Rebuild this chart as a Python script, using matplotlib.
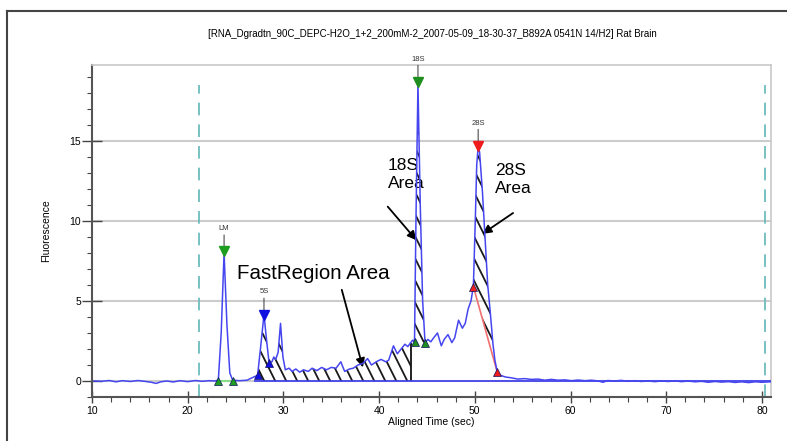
import numpy as np
import matplotlib
matplotlib.use("Agg")
import matplotlib.pyplot as plt
from matplotlib.collections import LineCollection
from matplotlib.lines import Line2D

plt.rcParams['font.family'] = ['Liberation Sans Narrow', 'Liberation Sans', 'DejaVu Sans']

# electropherogram trace (time in sec, fluorescence)
time = [10.2, 11.0, 11.8, 12.5, 13.2, 14.0, 14.8, 15.5, 16.2, 16.7, 17.2, 17.8, 18.5, 19.2,
        20.0, 20.8, 21.5, 22.2, 22.8, 23.2, 23.5, 23.8, 24.1, 24.4, 24.7, 25.4, 26.2, 26.9,
        27.3, 27.6, 27.97, 28.25, 28.5, 28.8, 29.0, 29.2, 29.45, 29.7, 29.95, 30.2, 30.6,
        30.9, 31.3, 31.7, 32.1, 32.6, 33.0, 33.5, 34.0, 34.5, 35.0, 35.5, 36.0, 36.4, 36.9,
        37.3, 37.8, 38.3, 38.8, 39.2, 39.7, 40.2, 40.7, 41.0, 41.5, 41.9, 42.3, 42.7, 43.0,
        43.3, 43.5, 43.7, 43.85, 44.06, 44.3, 44.55, 44.8, 45.1, 45.4, 45.7, 46.1, 46.5,
        46.8, 47.2, 47.6, 47.9, 48.3, 48.7, 49.0, 49.3, 49.6, 49.85, 50.05, 50.2, 50.35,
        50.5, 50.8, 51.1, 51.35, 51.6, 51.9, 52.1, 52.35, 52.7, 53.2, 53.8, 54.5, 55.2, 55.9,
        56.6, 57.3, 58.0, 58.7, 59.4, 60.1, 60.8, 61.5, 62.2, 62.9, 63.4, 63.9, 64.6, 65.3,
        66.0, 66.7, 67.4, 68.1, 68.8, 69.5, 70.2, 70.9, 71.6, 72.3, 73.0, 73.7, 74.4, 75.1,
        75.8, 76.5, 77.2, 77.9, 78.6, 79.3, 80.0, 80.9]
fluor = [0.0, -0.02, 0.03, -0.05, 0.02, -0.03, 0.03, -0.02, -0.08, -0.15, -0.05, 0.0, -0.06, 0.02,
         -0.04, 0.03, -0.02, 0.02, 0.0, 0.05, 3.0, 8.0, 3.5, 0.5, 0.05, 0.02, 0.05, 0.25,
         0.35, 2.0, 4.15, 2.5, 1.15, 1.2, 1.5, 1.35, 1.8, 3.6, 1.5, 0.7, 0.8,
         0.6, 0.75, 0.55, 0.7, 0.6, 0.8, 0.65, 0.85, 0.7, 0.85, 0.8, 1.2, 0.6, 0.75,
         0.8, 1.0, 1.1, 1.4, 1.0, 1.2, 1.35, 1.2, 1.3, 2.2, 1.7, 2.0, 2.3, 2.15,
         2.4, 2.55, 2.45, 10.0, 18.6, 11.0, 5.0, 2.4, 2.6, 2.45, 2.7, 3.0, 2.2,
         2.6, 2.9, 2.4, 2.7, 3.8, 3.3, 3.6, 4.5, 5.0, 5.9, 10.0, 13.5, 14.65,
         14.3, 11.8, 8.6, 6.0, 4.4, 2.3, 1.3, 0.55, 0.35, 0.25, 0.2, 0.12, 0.15, 0.1,
         0.12, 0.05, 0.1, 0.05, 0.07, 0.02, 0.06, 0.02, 0.05, 0.0, -0.08, 0.03, 0.0, 0.04,
         -0.02, 0.02, -0.03, 0.01, -0.04, 0.0, -0.03, 0.01, -0.04, 0.0, -0.05, -0.02, -0.08, -0.03,
         -0.07, -0.04, -0.09, -0.05, -0.1, -0.05, -0.08, -0.05]

# peak tops: name, time, height, marker colour
peak_names = ['LM', '5S', '18S', '28S']
peak_times = [23.8, 27.97, 44.06, 50.35]
peak_heights = [8.1, 4.15, 18.7, 14.7]
peak_colors = ['#1e9e1e', '#1010e0', '#1e8e1e', '#ee1c1c']

# peak start/end markers
base_times = [[23.2, 24.7], [27.3, 28.5], [43.7, 44.8], [49.85, 52.35]]
base_levels = [[0.0, 0.0], [0.35, 1.15], [2.45, 2.4], [5.9, 0.55]]

# integration regions
fast_region = (27.3, 43.3)
peak18_region = (43.7, 44.8)
peak28_region = (49.85, 52.35)

markers = [21.2, 80.3]

t = np.array(time)
f = np.array(fluor)

fig = plt.figure(figsize=(7.87, 4.41), dpi=100)
ax = fig.add_axes([92 / 787, 1 - 397 / 441, 679 / 787, 332 / 441])
ax.set_xlim(10, 80.95)
ax.set_ylim(-1.0, 19.75)

# outer frame (only top and left show)
fig.add_artist(Line2D([7 / 787, 7 / 787], [0, 1 - 11 / 441], color='#444444', lw=1.5))
fig.add_artist(Line2D([7 / 787, 1], [1 - 11 / 441, 1 - 11 / 441], color='#444444', lw=1.5))

for yv in [0, 5, 10, 15]:
    ax.axhline(yv, color='#cccccc', lw=1.5, zorder=0)

ax.vlines(markers, -1, 18.5, colors='#6dbcbc', linestyles=(0, (7, 5)), lw=1.3, zorder=1)


def hatch(lo, hi, mask):
    poly = ax.fill_between(t[mask], lo, hi, facecolor='none', edgecolor='none')
    path = poly.get_paths()[0]
    k = 1.2  # slope of the hatch lines in data units
    x0, x1 = t[mask].min(), t[mask].max()
    y0, y1 = -1, 20
    segs = [[(c - y0 / k, y0), (c - y1 / k, y1)]
            for c in np.arange(x0 - 20, x1 + 20, 1.15)]
    lc = LineCollection(segs, colors='#1a1a1a', linewidths=1.3, zorder=2)
    ax.add_collection(lc)
    lc.set_clip_path(path, ax.transData)


m = (t >= fast_region[0]) & (t <= fast_region[1])
hatch(0, f[m], m)
m = (t >= peak18_region[0]) & (t <= peak18_region[1])
hatch(2.4, f[m], m)
m = (t >= peak28_region[0]) & (t <= peak28_region[1])
red_base = np.interp(t[m], base_times[3], base_levels[3])
hatch(red_base, f[m], m)

ax.vlines(fast_region[1], 0, 2.4, colors='#111111', lw=1.3, zorder=3)
ax.hlines(0, 26.9, 80.9, colors='#3a3af0', lw=1.2, zorder=3)
ax.hlines(0, base_times[0][0], base_times[0][1], colors='#88dd88', lw=1.5, zorder=3)
ax.plot(base_times[3], base_levels[3], color='#f07070', lw=1.2, zorder=3)

ax.plot(t, f, color='#4646f0', lw=1.1, zorder=4)

for i in range(4):
    ax.plot(base_times[i], base_levels[i], '^', color=peak_colors[i], mec='#101060',
            mew=0.5, ms=6, zorder=5)
    ax.plot(peak_times[i], peak_heights[i], 'v', color=peak_colors[i], ms=6.5, zorder=5)
    ax.annotate(peak_names[i], xy=(peak_times[i], peak_heights[i] + 0.25),
                xytext=(0, 11), textcoords='offset points', ha='center', va='bottom',
                fontsize=5.5, color='#333333',
                arrowprops=dict(arrowstyle='-', color='#333333', lw=0.7, shrinkA=0, shrinkB=0))

arrow = dict(arrowstyle='-|>', color='black', lw=1.3, mutation_scale=13, shrinkA=0, shrinkB=0)
ax.text(25.15, 6.4, 'FastRegion Area', fontsize=14.8, family=['Liberation Sans', 'DejaVu Sans'])
ax.annotate('', xy=(38.3, 0.85), xytext=(36.1, 5.7), arrowprops=arrow)
ax.text(40.9, 12.9, '18S\nArea', fontsize=12.5, va='center', linespacing=1.3,
        family=['Liberation Sans', 'DejaVu Sans'])
ax.annotate('', xy=(43.9, 8.8), xytext=(40.9, 10.9), arrowprops=arrow)
ax.text(52.1, 12.6, '28S\nArea', fontsize=12.5, va='center', linespacing=1.3,
        family=['Liberation Sans', 'DejaVu Sans'])
ax.annotate('', xy=(50.8, 9.2), xytext=(54.0, 10.5), arrowprops=arrow)

ax.set_xticks(range(10, 81, 10))
ax.set_xticks(range(12, 81, 2), minor=True)
ax.set_yticks([0, 5, 10, 15])
ax.set_yticks(range(-1, 20), minor=True)
ax.tick_params(axis='x', which='major', direction='inout', length=9, width=1, color='#444444',
               labelsize=7.5, pad=2)
ax.tick_params(axis='y', which='major', direction='inout', length=14, width=1, color='#444444',
               labelsize=7.5, pad=1)
ax.tick_params(which='minor', direction='out', length=3.5, width=0.8, color='#444444')
for s in ['left', 'bottom']:
    ax.spines[s].set_color('#555555')
    ax.spines[s].set_linewidth(1.5)
for s in ['top', 'right']:
    ax.spines[s].set_color('#c8c8c8')
    ax.spines[s].set_linewidth(1.2)

ax.set_xlabel('Aligned Time (sec)', fontsize=7.5, labelpad=1)
ax.set_ylabel('Fluorescence', fontsize=7.5, labelpad=13)

fig.text(0.549, 1 - 34 / 441,
         '[RNA_Dgradtn_90C_DEPC-H2O_1+2_200mM-2_2007-05-09_18-30-37_B892A 0541N 14/H2] Rat Brain',
         ha='center', va='center', fontsize=7)

fig.savefig('out.png', dpi=100)
